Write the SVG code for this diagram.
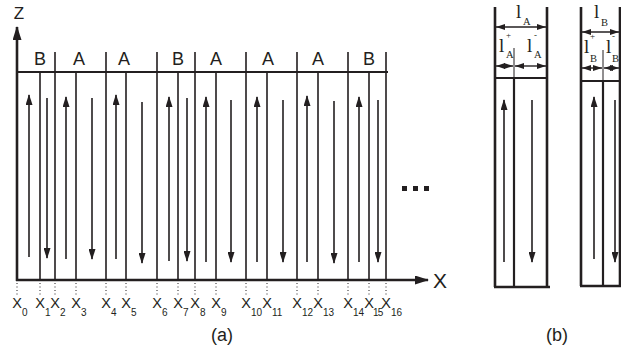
<svg xmlns="http://www.w3.org/2000/svg" width="621" height="356" viewBox="0 0 621 356">
<style>
.ln{stroke:#231f20;stroke-width:1.6;fill:none}
.ax{stroke:#231f20;stroke-width:2.6;fill:none}
.ar{stroke:#231f20;stroke-width:1.6;fill:none;marker-end:url(#ah)}
.dt{stroke:#231f20;stroke-width:1;stroke-dasharray:1 2.5;fill:none}
.th{stroke:#231f20;stroke-width:2.6;fill:none}
.tn{stroke:#231f20;stroke-width:1;fill:none}
.dm{stroke:#231f20;stroke-width:1.4;fill:none;marker-start:url(#sa);marker-end:url(#sa)}
.s{font-family:"Liberation Sans",Arial,sans-serif;fill:#231f20}
.r{font-family:"Liberation Serif","Times New Roman",serif;fill:#231f20}
</style>
<defs>
<marker id="ah" markerUnits="userSpaceOnUse" markerWidth="11" markerHeight="7" refX="10" refY="3.5" orient="auto" viewBox="0 0 11 7"><path d="M0,0 L11,3.5 L0,7 z" fill="#231f20"/></marker>
<marker id="big" markerUnits="userSpaceOnUse" markerWidth="14" markerHeight="9" refX="13" refY="4.5" orient="auto" viewBox="0 0 14 9"><path d="M0,0 L14,4.5 L0,9 z" fill="#231f20"/></marker>
<marker id="sa" markerUnits="userSpaceOnUse" markerWidth="9" markerHeight="6" refX="9" refY="3" orient="auto-start-reverse" viewBox="0 0 9 6"><path d="M0,0 L9,3 L0,6 z" fill="#231f20"/></marker>
</defs>

<g id="axes">
<line class="ax" x1="17" y1="281" x2="17" y2="27" marker-end="url(#big)"/>
<line class="ax" x1="16" y1="280" x2="428" y2="280" marker-end="url(#big)"/>
<text class="s" x="19" y="19" font-size="17" text-anchor="middle">Z</text>
<text class="s" x="440" y="288" font-size="21" text-anchor="middle">X</text>
</g>

<g id="structure-a">
<line class="ax" x1="17" y1="72" x2="388" y2="72" style="stroke-width:2"/>
<path class="ln" d="M55,52V280M106,52V280M157,52V280M195,52V280M246,52V280M297,52V280M348,52V280M386,52V280"/>
<path class="ln" d="M40,72V280M76,72V280M126,72V280M178,72V280M216,72V280M267,72V280M318,72V280M369,72V280"/>
<text class="s" font-size="18" text-anchor="middle" y="65"><tspan x="40">B</tspan><tspan x="79">A</tspan><tspan x="124">A</tspan><tspan x="178">B</tspan><tspan x="216">A</tspan><tspan x="268">A</tspan><tspan x="318">A</tspan><tspan x="369">B</tspan></text>
</g>

<g id="arrows-a">
<line class="ar" x1="29" y1="257" x2="29" y2="95"/>
<line class="ar" x1="47" y1="98" x2="47" y2="258"/>
<line class="ar" x1="66" y1="259" x2="66" y2="97"/>
<line class="ar" x1="92" y1="98" x2="92" y2="259"/>
<line class="ar" x1="116" y1="259" x2="116" y2="95"/>
<line class="ar" x1="142" y1="102" x2="142" y2="263"/>
<line class="ar" x1="169" y1="261" x2="169" y2="97"/>
<line class="ar" x1="187" y1="98" x2="187" y2="261"/>
<line class="ar" x1="206" y1="262" x2="206" y2="97"/>
<line class="ar" x1="231" y1="100" x2="231" y2="262"/>
<line class="ar" x1="257" y1="262" x2="257" y2="97"/>
<line class="ar" x1="283" y1="100" x2="283" y2="262"/>
<line class="ar" x1="307" y1="262" x2="307" y2="96"/>
<line class="ar" x1="334" y1="101" x2="334" y2="263"/>
<line class="ar" x1="359" y1="262" x2="359" y2="97"/>
<line class="ar" x1="378" y1="100" x2="378" y2="262"/>
</g>

<g id="ticks-a">
<path class="dt" d="M17,283V295M40,283V295M55,283V295M76,283V295M106,283V295M126,283V295M157,283V295M178,283V295M195,283V295M216,283V295M246,283V295M267,283V295M297,283V295M318,283V295M348,283V295M369,283V295M386,283V295"/>
</g>

<g id="labels-a">
<g class="s" font-size="14.5" text-anchor="middle">
<text x="17" y="308">X</text><text x="40" y="308">X</text><text x="55" y="308">X</text><text x="76" y="308">X</text><text x="106" y="308">X</text><text x="126" y="308">X</text><text x="157" y="308">X</text><text x="178" y="308">X</text><text x="195" y="308">X</text><text x="216" y="308">X</text><text x="246" y="308">X</text><text x="267" y="308">X</text><text x="297" y="308">X</text><text x="318" y="308">X</text><text x="348" y="308">X</text><text x="369" y="308">X</text><text x="386" y="308">X</text>
</g>
<g class="s" font-size="10">
<text x="22" y="316">0</text><text x="45" y="316">1</text><text x="60" y="316">2</text><text x="81" y="316">3</text><text x="111" y="316">4</text><text x="131" y="316">5</text><text x="162" y="316">6</text><text x="183" y="316">7</text><text x="200" y="316">8</text><text x="221" y="316">9</text><text x="251" y="316">10</text><text x="272" y="316">11</text><text x="302" y="316">12</text><text x="323" y="316">13</text><text x="353" y="316">14</text><text x="373" y="316" letter-spacing="-0.8">15</text><text x="391" y="316">16</text>
</g>
<g id="ellipsis" fill="#231f20">
<rect x="402" y="186" width="5" height="5"/><rect x="413" y="186" width="5" height="5"/><rect x="424" y="186" width="5" height="5"/>
</g>
<text class="s" x="222" y="341" font-size="18" text-anchor="middle">(a)</text>
</g>

<g id="cell-A">
<path class="th" d="M495,7V287M547,7V287M494,287H550"/>
<line class="ln" x1="495" y1="78" x2="547" y2="78" style="stroke-width:2"/>
<line class="tn" x1="514" y1="48" x2="514" y2="78"/>
<line class="th" x1="514" y1="78" x2="514" y2="287" style="stroke-width:2.2"/>
<line class="ar" x1="504" y1="262" x2="504" y2="100"/>
<line class="ar" x1="532" y1="100" x2="532" y2="262"/>
<line class="dm" x1="496" y1="27" x2="546" y2="27"/>
<line class="dm" x1="496" y1="66" x2="513" y2="66"/>
<line class="dm" x1="515" y1="66" x2="546" y2="66"/>
<text class="r" x="516" y="18" font-size="19">l</text><text class="r" x="523" y="25" font-size="10.5">A</text>
<text class="r" x="499" y="52" font-size="19">l</text><text class="r" x="506" y="38" font-size="9">+</text><text class="r" x="506" y="58" font-size="10.5">A</text>
<text class="r" x="527" y="52" font-size="19">l</text><text class="r" x="534" y="38" font-size="9">-</text><text class="r" x="534" y="58" font-size="10.5">A</text>
</g>

<g id="cell-B">
<path class="th" d="M581,7V286M620,7V286M580,286H621"/>
<line class="ln" x1="581" y1="81" x2="621" y2="81" style="stroke-width:2"/>
<line class="tn" x1="603" y1="50" x2="603" y2="81"/>
<line class="th" x1="603" y1="81" x2="603" y2="286" style="stroke-width:2.2"/>
<line class="ar" x1="594" y1="259" x2="594" y2="97"/>
<line class="ar" x1="615" y1="100" x2="615" y2="262"/>
<line class="dm" x1="582" y1="32" x2="619" y2="32"/>
<line class="dm" x1="582" y1="68" x2="602" y2="68"/>
<line class="dm" x1="604" y1="68" x2="619" y2="68"/>
<text class="r" x="594" y="18" font-size="19">l</text><text class="r" x="601" y="26" font-size="10.5">B</text>
<text class="r" x="584" y="53" font-size="19">l</text><text class="r" x="590" y="39" font-size="9">+</text><text class="r" x="590" y="62" font-size="10.5">B</text>
<text class="r" x="606" y="53" font-size="19">l</text><text class="r" x="612" y="39" font-size="9">-</text><text class="r" x="612" y="62" font-size="10.5">B</text>
<text class="s" x="557" y="341" font-size="18" text-anchor="middle">(b)</text>
</g>
</svg>
